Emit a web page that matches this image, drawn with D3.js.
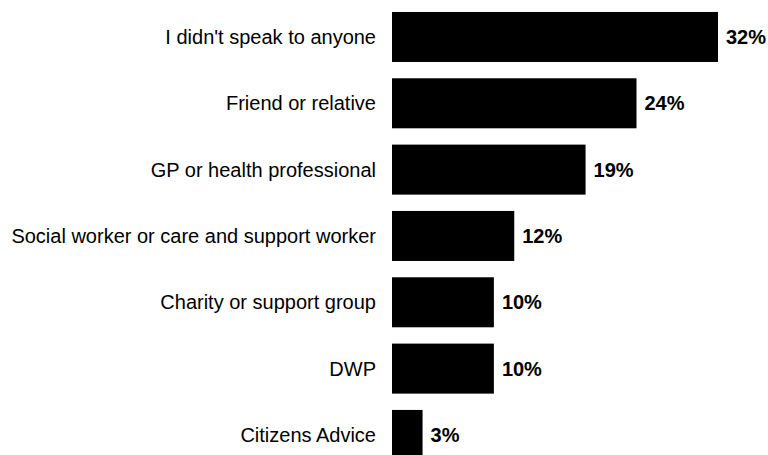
<!DOCTYPE html>
<html>
<head>
<meta charset="utf-8">
<script src="https://cdn.jsdelivr.net/npm/d3@7"></script>
<style>
  html, body { margin: 0; padding: 0; background: #fff; overflow: hidden; }
  text { font-family: "Liberation Sans", Arial, sans-serif; }
</style>
</head>
<body>
<svg id="chart" width="768" height="455"></svg>
<script>
// Who people spoke to
const categories = [
  "I didn't speak to anyone",
  "Friend or relative",
  "GP or health professional",
  "Social worker or care and support worker",
  "Charity or support group",
  "DWP",
  "Citizens Advice"
];
const values = [32, 24, 19, 12, 10, 10, 3];
const valueLabels = ["32%", "24%", "19%", "12%", "10%", "10%", "3%"];

const svg = d3.select("#chart");
const left = 392;

const x = d3.scaleLinear().domain([0, 32]).range([left, 718]);
const y = d3.scaleBand()
  .domain(categories)
  .range([3.8, 3.8 + 7 * 66.33])
  .paddingInner(0.246)
  .paddingOuter(0.123);

const rows = svg.selectAll("g.row")
  .data(categories.map((c, i) => ({ c, v: values[i], l: valueLabels[i] })))
  .join("g")
  .attr("class", "row");

rows.append("rect")
  .attr("x", x(0))
  .attr("y", d => y(d.c))
  .attr("width", d => x(d.v) - x(0))
  .attr("height", y.bandwidth())
  .attr("fill", "#000");

rows.append("text")
  .attr("x", left - 16)
  .attr("y", d => y(d.c) + y.bandwidth() / 2)
  .attr("dy", "0.35em")
  .attr("text-anchor", "end")
  .attr("font-size", 20)
  .attr("fill", "#000")
  .text(d => d.c);

rows.append("text")
  .attr("x", d => x(d.v) + 8)
  .attr("y", d => y(d.c) + y.bandwidth() / 2)
  .attr("dy", "0.35em")
  .attr("font-size", 20)
  .attr("font-weight", "bold")
  .attr("fill", "#000")
  .text(d => d.l);
</script>
</body>
</html>
